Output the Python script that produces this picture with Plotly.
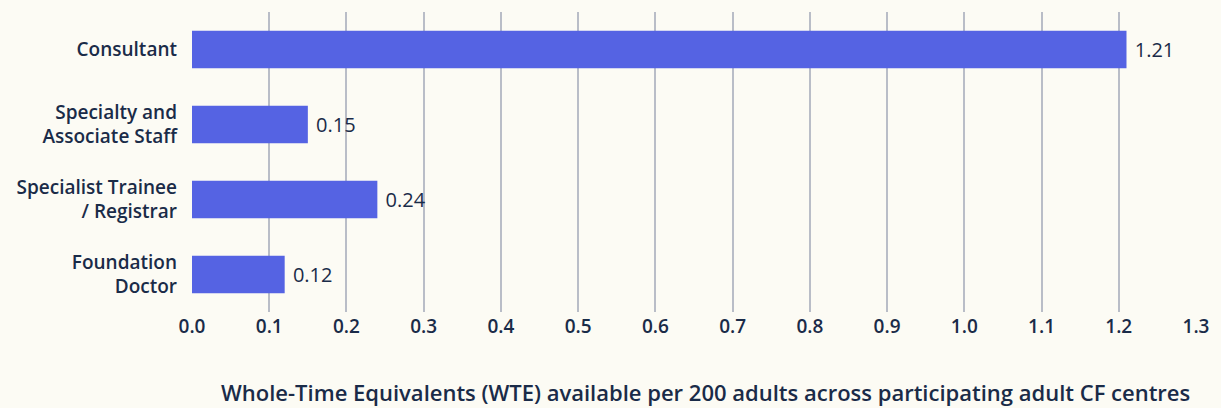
import plotly.graph_objects as go

# Staff grades, listed top to bottom
grades = [
    "Consultant",
    "Specialty and<br>Associate Staff",
    "Specialist Trainee<br>/ Registrar",
    "Foundation<br>Doctor",
]
wte_per_200 = [1.21, 0.15, 0.24, 0.12]
x_ticks = [0.0, 0.1, 0.2, 0.3, 0.4, 0.5, 0.6, 0.7, 0.8, 0.9, 1.0, 1.1, 1.2, 1.3]

BG = "#FCFBF4"
BAR = "#5563E3"
INK = "#1A2B48"
GRID = "#B9BDC7"
FONT = "Open Sans"

fig = go.Figure(
    go.Bar(
        x=wte_per_200,
        y=grades,
        orientation="h",
        marker=dict(color=BAR, line=dict(width=0)),
        text=["\u00a0" + f"{v:.2f}" for v in wte_per_200],
        textposition="outside",
        textfont=dict(family=FONT, size=20, color=INK),
        cliponaxis=False,
        width=0.5,
    )
)

fig.update_layout(
    width=1221,
    height=408,
    margin=dict(l=192, r=21, t=12, b=96),
    paper_bgcolor=BG,
    plot_bgcolor=BG,
    showlegend=False,
    font=dict(family=FONT, color=INK),
    xaxis=dict(
        range=[0, 1.3],
        tickvals=x_ticks,
        ticktext=[f"{t:.1f}" for t in x_ticks],
        showgrid=True,
        gridcolor=GRID,
        gridwidth=2,
        zeroline=False,
        showline=False,
        ticks="",
        ticklabelstandoff=1,
        tickfont=dict(family=FONT, size=19, color=INK, weight=600),
    ),
    yaxis=dict(
        autorange="reversed",
        showgrid=False,
        zeroline=False,
        showline=False,
        ticks="",
        ticklabelstandoff=14,
        tickfont=dict(family=FONT, size=19, color=INK, weight=600),
    ),
    annotations=[
        dict(
            text="Whole-Time Equivalents (WTE) available per 200 adults across participating adult CF centres",
            xref="paper",
            yref="paper",
            x=0.511,
            y=-0.268,
            xanchor="center",
            yanchor="middle",
            showarrow=False,
            font=dict(family=FONT, size=22, color=INK, weight=600),
        )
    ],
)

fig.write_html("out.html")
